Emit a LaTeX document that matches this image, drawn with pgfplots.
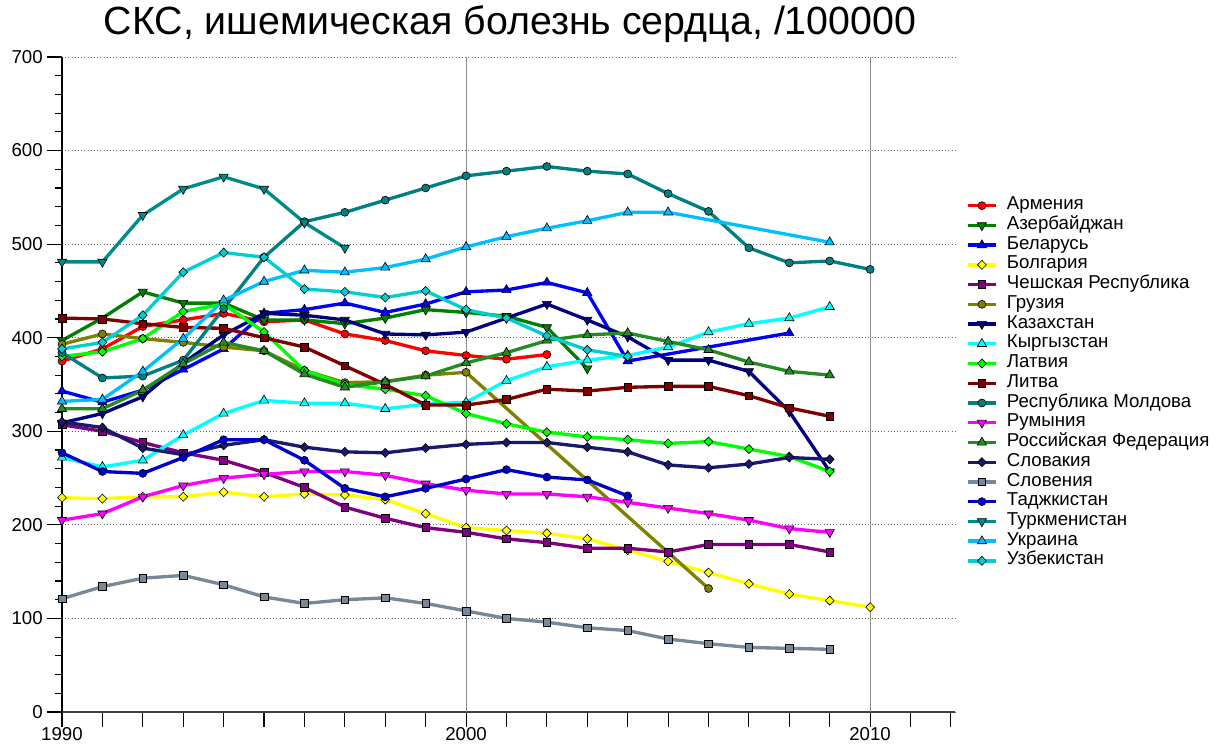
\documentclass[border=0pt]{standalone}
\usepackage{fontspec}
\setmainfont{Liberation Sans}
\usepackage{pgfplots}
\pgfplotsset{compat=1.18}
\definecolor{cArm}{RGB}{255,0,0}
\definecolor{cAze}{RGB}{0,128,0}
\definecolor{cBel}{RGB}{0,0,255}
\definecolor{cBul}{RGB}{255,255,0}
\definecolor{cCze}{RGB}{128,0,128}
\definecolor{cGeo}{RGB}{128,128,0}
\definecolor{cKaz}{RGB}{0,0,128}
\definecolor{cKyr}{RGB}{0,255,255}
\definecolor{cLat}{RGB}{0,255,0}
\definecolor{cLit}{RGB}{128,0,0}
\definecolor{cMol}{RGB}{0,128,128}
\definecolor{cRom}{RGB}{255,0,255}
\definecolor{cRus}{RGB}{34,139,34}
\definecolor{cSvk}{RGB}{25,25,112}
\definecolor{cSvn}{RGB}{119,136,153}
\definecolor{cTaj}{RGB}{0,0,205}
\definecolor{cTur}{RGB}{0,139,139}
\definecolor{cUkr}{RGB}{0,191,255}
\definecolor{cUzb}{RGB}{0,206,209}
\pgfplotsset{
  sbase/.style={color=#1, line width=2.5pt, mark options={draw=black, fill=#1, line width=0.45pt, solid}},
  pC/.style={sbase=#1, mark=*, mark size=3.0pt},
  pD/.style={sbase=#1, mark=triangle*, mark size=4.0pt, every mark/.append style={rotate=180}},
  pU/.style={sbase=#1, mark=triangle*, mark size=4.0pt},
  pR/.style={sbase=#1, mark=diamond*, mark size=3.4pt, every mark/.append style={xscale=1.3}},
  pS/.style={sbase=#1, mark=square*, mark size=2.9pt},
}
\begin{document}
\begin{tikzpicture}
\begin{axis}[
  at={(46.5pt,24.75pt)}, anchor=south west,
  scale only axis, width=669.75pt, height=491.25pt,
  xmin=1990, xmax=2012.1, ymin=0, ymax=700,
  axis x line*=bottom, axis y line*=left,
  x axis line style={black!75, line width=1.2pt},
  y axis line style={black, line width=1.2pt},
  xtick={1990,...,2012},
  xticklabels={1990,,,,,,,,,,2000,,,,,,,,,,2010,,},
  ytick={0,100,...,700},
  minor ytick={0,20,...,700},
  tick align=outside,
  major tick length=11pt, minor tick length=5pt,
  tick style={black, line width=0.8pt},
  ymajorgrids,
  major grid style={black!60, dotted, line width=0.6pt},
  extra x ticks={2000,2010},
  extra x tick labels={},
  extra x tick style={grid=major, major grid style={black!45, solid, line width=0.8pt}, major tick length=0pt},
  /pgf/number format/assume math mode=true,
  tick label style={font=\fontsize{14}{14}\selectfont},
  xticklabel style={yshift=3pt},
  title={СКС, ишемическая болезнь сердца, /100000},
  title style={font=\fontsize{29.5}{29.5}\selectfont, at={(0.5017,1)}, anchor=base, yshift=11pt, inner sep=0pt},
  legend cell align=left,
  legend style={at={(1.0123,0.7885)}, anchor=north west, draw=none, fill=none, inner sep=0pt,
    font=\fontsize{14}{14.8}\selectfont, row sep=0pt, column sep=7pt,
    nodes={inner sep=0pt, text height=10.5pt, text depth=4.3pt}},
  legend image code/.code={\draw[mark repeat=2,mark phase=2] plot coordinates {(0pt,0pt) (10.5pt,0pt) (21pt,0pt)};},
]
\addplot[pC=cArm] coordinates {(1990,375)(1991,388)(1992,412)(1993,419)(1994,426)(1995,417)(1996,419)(1997,404)(1998,397)(1999,386)(2000,381)(2001,377)(2002,382)};
\addlegendentry{Армения}
\addplot[pD=cAze] coordinates {(1990,397)(1991,421)(1992,449)(1993,437)(1994,437)(1995,419)(1996,419)(1997,415)(1998,421)(1999,430)(2000,427)(2001,423)(2002,411)(2003,367)};
\addlegendentry{Азербайджан}
\addplot[pU=cBel] coordinates {(1990,343)(1991,331)(1992,344)(1993,366)(1994,388)(1995,426)(1996,430)(1997,437)(1998,427)(1999,436)(2000,449)(2001,451)(2002,459)(2003,448)(2004,375)(2008,405)};
\addlegendentry{Беларусь}
\addplot[pR=cBul] coordinates {(1990,229)(1991,228)(1992,230)(1993,230)(1994,235)(1995,230)(1996,233)(1997,232)(1998,227)(1999,212)(2000,197)(2001,194)(2002,191)(2003,185)(2004,173)(2005,161)(2006,149)(2007,137)(2008,126)(2009,119)(2010,112)};
\addlegendentry{Болгария}
\addplot[pS=cCze] coordinates {(1990,307)(1991,300)(1992,288)(1993,277)(1994,269)(1995,256)(1996,240)(1997,219)(1998,207)(1999,197)(2000,192)(2001,185)(2002,181)(2003,175)(2004,175)(2005,171)(2006,179)(2007,179)(2008,179)(2009,171)};
\addlegendentry{Чешская Республика}
\addplot[pC=cGeo] coordinates {(1990,393)(1991,404)(1992,399)(1993,395)(1994,390)(1995,386)(1996,365)(1997,352)(1998,353)(1999,360)(2000,363)(2006,132)};
\addlegendentry{Грузия}
\addplot[pD=cKaz] coordinates {(1990,309)(1991,319)(1992,337)(1993,373)(1994,403)(1995,426)(1996,424)(1997,419)(1998,404)(1999,403)(2000,406)(2001,421)(2002,436)(2003,419)(2004,401)(2005,376)(2006,376)(2007,364)(2008,321)(2009,257)};
\addlegendentry{Казахстан}
\addplot[pU=cKyr] coordinates {(1990,272)(1991,262)(1992,269)(1993,296)(1994,319)(1995,333)(1996,330)(1997,330)(1998,324)(1999,329)(2000,331)(2001,354)(2002,369)(2003,376)(2004,381)(2005,390)(2006,406)(2007,415)(2008,421)(2009,433)};
\addlegendentry{Кыргызстан}
\addplot[pR=cLat] coordinates {(1990,380)(1991,385)(1992,399)(1993,428)(1994,436)(1995,406)(1996,365)(1997,350)(1998,345)(1999,338)(2000,319)(2001,308)(2002,299)(2003,294)(2004,291)(2005,287)(2006,289)(2007,281)(2008,273)(2009,257)};
\addlegendentry{Латвия}
\addplot[pS=cLit] coordinates {(1990,421)(1991,420)(1992,415)(1993,411)(1994,410)(1995,400)(1996,390)(1997,370)(1998,350)(1999,328)(2000,328)(2001,334)(2002,345)(2003,343)(2004,347)(2005,348)(2006,348)(2007,338)(2008,325)(2009,316)};
\addlegendentry{Литва}
\addplot[pC=cMol] coordinates {(1990,384)(1991,357)(1992,359)(1993,376)(1994,431)(1995,486)(1996,524)(1997,534)(1998,547)(1999,560)(2000,573)(2001,578)(2002,583)(2003,578)(2004,575)(2005,554)(2006,535)(2007,496)(2008,480)(2009,482)(2010,473)};
\addlegendentry{Республика Молдова}
\addplot[pD=cRom] coordinates {(1990,205)(1991,212)(1992,230)(1993,242)(1994,250)(1995,254)(1996,257)(1997,257)(1998,253)(1999,244)(2000,237)(2001,233)(2002,233)(2003,230)(2004,224)(2005,218)(2006,212)(2007,205)(2008,196)(2009,192)};
\addlegendentry{Румыния}
\addplot[pU=cRus] coordinates {(1990,324)(1991,324)(1992,344)(1993,372)(1994,395)(1995,386)(1996,361)(1997,347)(1998,353)(1999,359)(2000,373)(2001,384)(2002,397)(2003,403)(2004,405)(2005,396)(2006,387)(2007,374)(2008,364)(2009,360)};
\addlegendentry{Российская Федерация}
\addplot[pR=cSvk] coordinates {(1990,310)(1991,304)(1992,282)(1993,275)(1994,285)(1995,291)(1996,283)(1997,278)(1998,277)(1999,282)(2000,286)(2001,288)(2002,288)(2003,283)(2004,278)(2005,264)(2006,261)(2007,265)(2008,272)(2009,270)};
\addlegendentry{Словакия}
\addplot[pS=cSvn] coordinates {(1990,121)(1991,134)(1992,143)(1993,146)(1994,136)(1995,123)(1996,116)(1997,120)(1998,122)(1999,116)(2000,108)(2001,100)(2002,96)(2003,90)(2004,87)(2005,78)(2006,73)(2007,69)(2008,68)(2009,67)};
\addlegendentry{Словения}
\addplot[pC=cTaj] coordinates {(1990,277)(1991,257)(1992,255)(1993,272)(1994,291)(1995,291)(1996,269)(1997,239)(1998,230)(1999,239)(2000,249)(2001,259)(2002,251)(2003,248)(2004,231)};
\addlegendentry{Таджкистан}
\addplot[pD=cTur] coordinates {(1990,481)(1991,481)(1992,531)(1993,559)(1994,572)(1995,559)(1996,523)(1997,496)};
\addlegendentry{Туркменистан}
\addplot[pU=cUkr] coordinates {(1990,332)(1991,334)(1992,364)(1993,399)(1994,440)(1995,460)(1996,472)(1997,470)(1998,475)(1999,484)(2000,497)(2001,508)(2002,517)(2003,525)(2004,534)(2005,534)(2009,502)};
\addlegendentry{Украина}
\addplot[pR=cUzb] coordinates {(1990,388)(1991,395)(1992,424)(1993,470)(1994,491)(1995,486)(1996,452)(1997,449)(1998,443)(1999,450)(2000,430)(2001,421)(2002,402)(2003,387)(2004,380)};
\addlegendentry{Узбекистан}
\end{axis}
\pgfresetboundingbox
\useasboundingbox (0,0) rectangle (912pt,558.75pt);
\end{tikzpicture}
\end{document}
